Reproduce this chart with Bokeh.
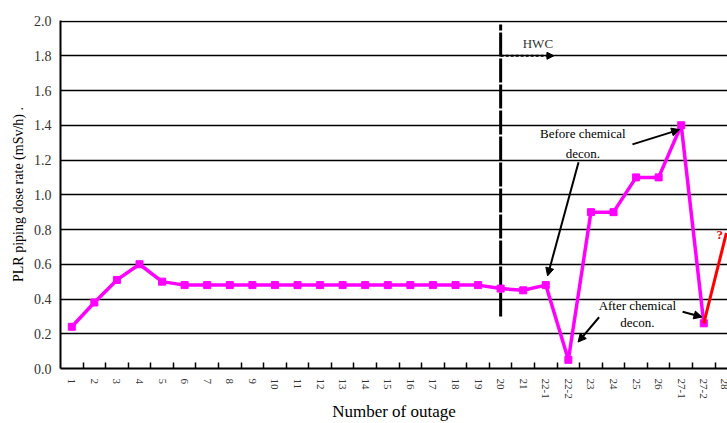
import math
from bokeh.plotting import figure
from bokeh.models import FixedTicker, Label, Arrow, NormalHead, Title
from bokeh.embed import file_html
from bokeh.resources import INLINE

# ---- data ----
categories = ["1", "2", "3", "4", "5", "6", "7", "8", "9", "10", "11", "12", "13", "14",
              "15", "16", "17", "18", "19", "20", "21", "22-1", "22-2", "23", "24", "25",
              "26", "27-1", "27-2", "28"]
dose_rate = [0.24, 0.38, 0.51, 0.60, 0.50, 0.48, 0.48, 0.48, 0.48, 0.48, 0.48, 0.48,
             0.48, 0.48, 0.48, 0.48, 0.48, 0.48, 0.48, 0.46, 0.45, 0.48, 0.05, 0.90,
             0.90, 1.10, 1.10, 1.40, 0.26]
projected_cats = ["27-2", "28"]
projected_vals = [0.26, 0.78]
y_ticks = [0.0, 0.2, 0.4, 0.6, 0.8, 1.0, 1.2, 1.4, 1.6, 1.8, 2.0]

hwc_outage = "20"
hwc_line_span = [0.30, 1.98]
hwc_arrow_level = 1.8
hwc_arrow_end = 22.36

FONT = "Liberation Serif"

pos = {c: i + 1 for i, c in enumerate(categories)}
xs = [pos[c] for c in categories[:len(dose_rate)]]
px = [pos[c] for c in projected_cats]

p = figure(width=727, height=423, output_backend="svg", toolbar_location=None,
           x_range=(0.5, 30.05), y_range=(0, 2.003),
           min_border_left=60, min_border_right=0, min_border_top=20, min_border_bottom=53)
p.outline_line_color = None
p.background_fill_color = "white"

# axes
p.xaxis.ticker = FixedTicker(ticks=list(range(1, len(categories) + 1)),
                             minor_ticks=[i + 0.5 for i in range(1, len(categories))])
p.xaxis.major_label_overrides = {i + 1: c for i, c in enumerate(categories)}
p.xaxis.major_label_orientation = "vertical"
p.xaxis.major_tick_in = 0
p.xaxis.major_tick_out = 0
p.xaxis.minor_tick_in = 6
p.xaxis.minor_tick_out = 0
p.xaxis.minor_tick_line_color = "black"
p.xaxis.minor_tick_line_width = 1.5
p.xaxis.axis_line_color = "black"
p.xaxis.axis_line_width = 2
p.xaxis.major_label_text_font = FONT
p.xaxis.major_label_text_font_size = "11px"
p.xaxis.major_label_text_color = "#333333"
p.xaxis.major_label_standoff = 10
p.xaxis.axis_label = "Number of outage"
p.xaxis.axis_label_text_font = FONT
p.xaxis.axis_label_text_font_size = "17px"
p.xaxis.axis_label_text_font_style = "normal"
p.xaxis.axis_label_text_color = "black"
p.xaxis.axis_label_standoff = 0

p.yaxis.ticker = FixedTicker(ticks=y_ticks)
p.yaxis.major_label_overrides = {t: f"{t:.1f}" for t in y_ticks}
p.yaxis.major_tick_in = 0
p.yaxis.major_tick_out = 0
p.yaxis.minor_tick_line_color = None
p.yaxis.axis_line_color = "black"
p.yaxis.axis_line_width = 2
p.yaxis.major_label_text_font = FONT
p.yaxis.major_label_text_font_size = "14px"
p.yaxis.major_label_text_color = "#333333"
p.yaxis.major_label_standoff = 9

p.add_layout(Title(text="PLR piping dose rate (mSv/h) .", align="center", offset=15,
                   text_font=FONT, text_font_size="14px", text_font_style="normal",
                   text_color="black", standoff=10), "left")

p.xgrid.visible = False
p.ygrid.ticker = FixedTicker(ticks=y_ticks)
p.ygrid.grid_line_color = "black"
p.ygrid.grid_line_width = 1.5

# HWC vertical line
hx = pos[hwc_outage]
p.line([hx, hx], hwc_line_span, line_color="black", line_width=3, line_dash="24 2")
p.add_layout(Arrow(end=NormalHead(size=7, fill_color="black", line_color="black"),
                   x_start=hx, y_start=hwc_arrow_level, x_end=hwc_arrow_end, y_end=hwc_arrow_level,
                   line_color="black", line_width=2, line_dash="3 2"))
p.add_layout(Label(x=21.65, y=1.87, text="HWC", text_font=FONT, text_font_size="13px",
                   text_color="#333333", text_align="center", text_baseline="middle"))

# series
p.line(xs, dose_rate, line_color="#FF00FF", line_width=3.5)
p.scatter(xs, dose_rate, marker="square", size=7, fill_color="#FF00FF", line_color="#FF00FF")
p.line(px, projected_vals, line_color="red", line_width=3)
p.add_layout(Label(x=29.71, y=0.77, text="?", text_font=FONT, text_font_size="13px",
                   text_color="red", text_align="center", text_baseline="middle",
                   text_font_style="bold"))

# annotations
for txt, y in [("Before chemical", 1.35), ("decon.", 1.24)]:
    p.add_layout(Label(x=23.64, y=y, text=txt, text_font=FONT, text_font_size="13px",
                       text_color="black", text_align="center", text_baseline="middle"))
for txt, y in [("After chemical", 0.362), ("decon.", 0.263)]:
    p.add_layout(Label(x=26.06, y=y, text=txt, text_font=FONT, text_font_size="13px",
                       text_color="black", text_align="center", text_baseline="middle"))

arrows = [
    (25.84, 1.29, 27.93, 1.375),
    (23.45, 1.187, 22.08, 0.533),
    (24.36, 0.295, 23.43, 0.152),
    (28.06, 0.327, 28.92, 0.296),
]
for x0, y0, x1, y1 in arrows:
    p.add_layout(Arrow(end=NormalHead(size=8, fill_color="black", line_color="black"),
                       x_start=x0, y_start=y0, x_end=x1, y_end=y1,
                       line_color="black", line_width=2))

open("out.html", "w").write(file_html(p, INLINE))
